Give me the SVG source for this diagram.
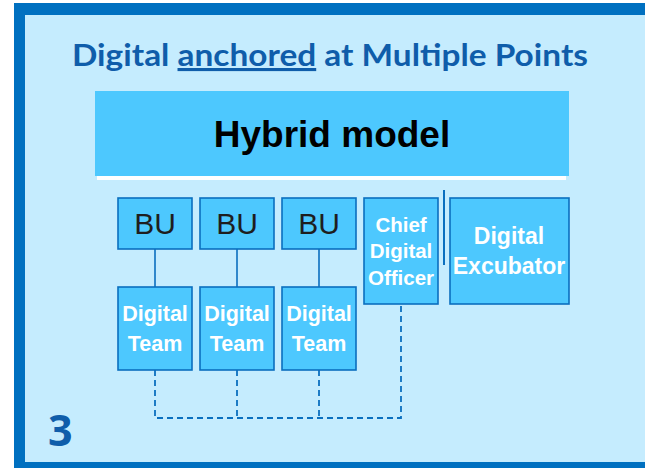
<svg xmlns="http://www.w3.org/2000/svg" width="645" height="468" viewBox="0 0 645 468">
  <style>
    .box { fill: #4DC8FE; stroke: #0A6FBF; stroke-width: 1.6; }
    .solid { stroke: #0A6FBF; stroke-width: 1.6; fill: none; }
    .dash { stroke: #0A6FBF; stroke-width: 1.8; fill: none; stroke-dasharray: 6 4; }
    .bu { font-family: "Liberation Sans", Arial, sans-serif; font-size: 30px; fill: #1E1E1E; text-anchor: middle; }
    .wt { font-family: "Liberation Sans", Arial, sans-serif; font-weight: bold; fill: #FFFFFF; text-anchor: middle; }
  </style>

  <!-- slide frame -->
  <rect x="0" y="0" width="645" height="468" fill="#FFFFFF"/>
  <rect x="14" y="3" width="631" height="465" fill="#0070C0"/>
  <rect x="25" y="15" width="620" height="447" fill="#C5ECFE"/>

  <!-- heading -->
  <text x="72" y="66" font-family="Lato, 'Open Sans', sans-serif" font-weight="bold" font-size="31" fill="#0F5DAA" textLength="516" lengthAdjust="spacingAndGlyphs">Digital <tspan text-decoration="underline">anchored</tspan> at Multiple Points</text>

  <!-- model banner -->
  <g id="banner">
    <rect x="97" y="176" width="469" height="4" fill="#FFFFFF"/>
    <rect x="95" y="91" width="474" height="85" fill="#4DC8FE"/>
    <text x="332" y="147" font-family="'Liberation Sans', Arial, sans-serif" font-weight="bold" font-size="37" fill="#000000" text-anchor="middle">Hybrid model</text>
  </g>

  <!-- connectors -->
  <g id="connectors">
    <line class="solid" x1="155" y1="249" x2="155" y2="287"/>
    <line class="solid" x1="237" y1="249" x2="237" y2="287"/>
    <line class="solid" x1="319" y1="249" x2="319" y2="287"/>
    <line x1="444" y1="190" x2="444" y2="265" stroke="#0A6FBF" stroke-width="2"/>
    <path class="dash" d="M155 370 V418 H401 V304"/>
    <line class="dash" x1="237" y1="370" x2="237" y2="418"/>
    <line class="dash" x1="319" y1="370" x2="319" y2="418"/>
  </g>

  <!-- business units -->
  <g id="bu1"><rect class="box" x="118" y="198" width="74" height="51"/><text class="bu" x="155" y="234">BU</text></g>
  <g id="bu2"><rect class="box" x="200" y="198" width="74" height="51"/><text class="bu" x="237" y="234">BU</text></g>
  <g id="bu3"><rect class="box" x="282" y="198" width="74" height="51"/><text class="bu" x="319" y="234">BU</text></g>

  <!-- digital teams -->
  <g id="team1"><rect class="box" x="118" y="287" width="74" height="83"/>
    <text class="wt" font-size="21.5" x="155" y="321">Digital</text><text class="wt" font-size="21.5" x="155" y="351">Team</text></g>
  <g id="team2"><rect class="box" x="200" y="287" width="74" height="83"/>
    <text class="wt" font-size="21.5" x="237" y="321">Digital</text><text class="wt" font-size="21.5" x="237" y="351">Team</text></g>
  <g id="team3"><rect class="box" x="282" y="287" width="74" height="83"/>
    <text class="wt" font-size="21.5" x="319" y="321">Digital</text><text class="wt" font-size="21.5" x="319" y="351">Team</text></g>

  <!-- chief digital officer -->
  <g id="cdo"><rect class="box" x="364" y="198" width="74" height="106"/>
    <text class="wt" font-size="20.5" x="401" y="232">Chief</text>
    <text class="wt" font-size="20.5" x="401" y="258">Digital</text>
    <text class="wt" font-size="20.5" x="401" y="285">Officer</text></g>

  <!-- digital excubator -->
  <g id="excubator"><rect class="box" x="450" y="198" width="119" height="106"/>
    <text class="wt" font-size="23" x="509" y="244">Digital</text>
    <text class="wt" font-size="23" x="509" y="274">Excubator</text></g>

  <!-- page number -->
  <text x="48" y="446" font-family="'Open Sans', sans-serif" font-weight="bold" font-size="43" fill="#0F5DAA">3</text>
</svg>
